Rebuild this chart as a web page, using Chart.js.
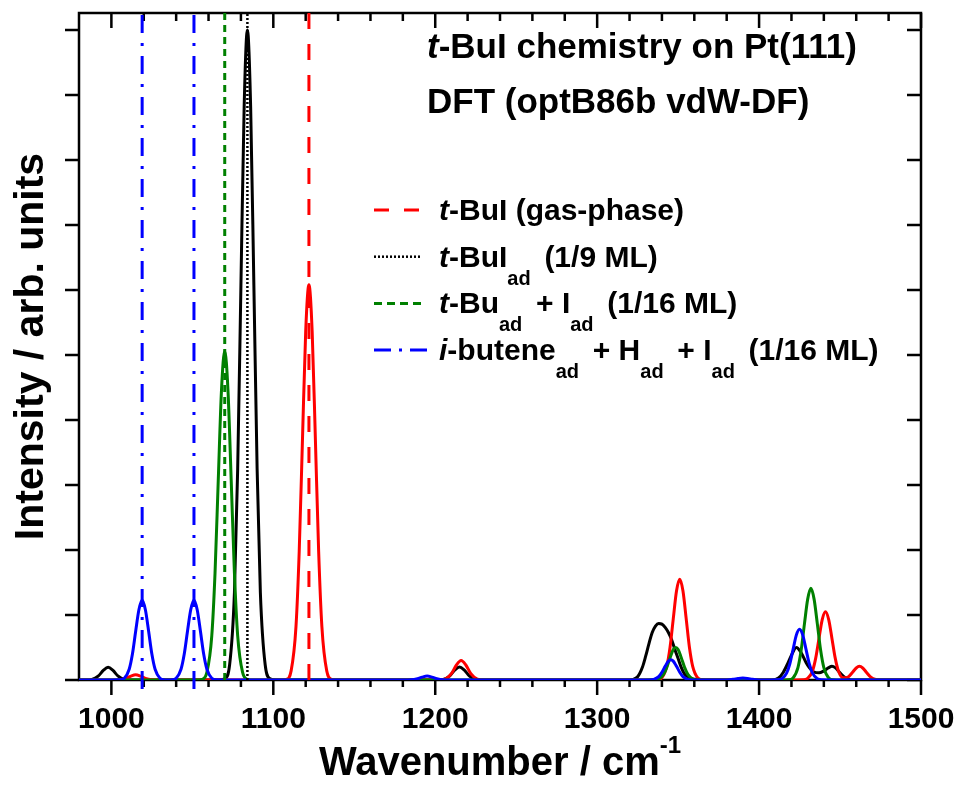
<!DOCTYPE html>
<html>
<head>
<meta charset="utf-8">
<title>t-BuI chemistry on Pt(111)</title>
<script src="https://cdn.jsdelivr.net/npm/chart.js@4.4.1/dist/chart.umd.min.js"></script>
<style>
  html, body { margin: 0; padding: 0; background: #fff; }
  canvas { display: block; }
</style>
</head>
<body>
<canvas id="spectrum" width="960" height="787" style="width:960px;height:787px"></canvas>
<script>
// axis ranges and ticks
const xMin = 980, xMax = 1500;
const yMin = 0, yMax = 1.026;
const xLabelValues = [1000, 1100, 1200, 1300, 1400, 1500];
const xTickValues = [1000, 1020, 1040, 1060, 1080, 1100, 1120, 1140, 1160, 1180, 1200, 1220, 1240, 1260, 1280, 1300,
  1320, 1340, 1360, 1380, 1400, 1420, 1440, 1460, 1480, 1500];
const yTickValues = [0, 0.1, 0.2, 0.3, 0.4, 0.5, 0.6, 0.7, 0.8, 0.9, 1.0];

// t-BuI (gas-phase)
const gasWn = [980, 1001, 1005, 1009, 1012, 1015, 1018, 1021, 1025, 1029,
  1104, 1108, 1111, 1114, 1116, 1118, 1120, 1122, 1124, 1126, 1128, 1130, 1133, 1136, 1140,
  1202, 1206, 1210, 1213, 1216, 1219, 1222, 1226, 1230,
  1333, 1337, 1340, 1343, 1345, 1347, 1349, 1351, 1353, 1355, 1357, 1359, 1362, 1365, 1369,
  1423, 1427, 1430, 1433, 1435, 1437, 1439, 1441, 1443, 1445, 1447, 1449, 1452, 1455, 1458, 1460, 1462, 1464, 1466, 1469, 1472, 1476, 1500];
const gasInt = [0, 0, 0.0004, 0.0026, 0.006, 0.008, 0.006, 0.0026, 0.0004, 0,
  0, 0.001, 0.014, 0.082, 0.198, 0.369, 0.536, 0.608, 0.536, 0.369, 0.198, 0.082, 0.014, 0.001, 0,
  0, 0.0013, 0.0098, 0.0227, 0.03, 0.0227, 0.0098, 0.0013, 0,
  0, 0.0003, 0.0036, 0.021, 0.05, 0.094, 0.137, 0.155, 0.137, 0.094, 0.05, 0.021, 0.0036, 0.0003, 0,
  0, 0.0002, 0.0024, 0.014, 0.034, 0.064, 0.093, 0.105, 0.093, 0.064, 0.034, 0.014, 0.0033, 0.0047, 0.0127, 0.0185, 0.021, 0.0185, 0.0127, 0.0045, 0.0009, 0, 0];
const gasSticks = [1122];

// t-BuI ad (1/9 ML)
const adsWn = [980, 984, 988, 992, 995, 998, 1001, 1004, 1008, 1012,
  1066, 1070, 1073, 1076, 1078, 1080, 1082, 1084, 1086, 1088, 1090, 1092, 1095, 1098, 1102,
  1201, 1205, 1209, 1212, 1215, 1218, 1221, 1225, 1229,
  1318, 1322, 1325, 1328, 1330, 1332, 1334, 1336, 1338, 1340, 1342, 1344, 1346, 1348, 1350, 1352, 1354, 1357, 1361, 1366,
  1408, 1412, 1415, 1418, 1420, 1423, 1426, 1429, 1431, 1434, 1437, 1440, 1443, 1445, 1447, 1450, 1453, 1457, 1500];
const adsInt = [0, 0, 0.0009, 0.0063, 0.0147, 0.0195, 0.0147, 0.0063, 0.0009, 0,
  0, 0.002, 0.023, 0.135, 0.325, 0.607, 0.882, 1.0, 0.882, 0.607, 0.325, 0.135, 0.023, 0.002, 0,
  0, 0.0009, 0.0065, 0.0151, 0.02, 0.0151, 0.0065, 0.0009, 0,
  0, 0.001, 0.005, 0.02, 0.037, 0.056, 0.073, 0.083, 0.087, 0.086, 0.081, 0.073, 0.062, 0.047, 0.033, 0.019, 0.009, 0.003, 0.001, 0,
  0, 0.003, 0.012, 0.027, 0.038, 0.05, 0.042, 0.027, 0.019, 0.012, 0.011, 0.014, 0.019, 0.021, 0.019, 0.011, 0.004, 0, 0];
const adsSticks = [1084];

// t-Bu ad + I ad (1/16 ML)
const tbuWn = [980,
  1052, 1056, 1059, 1062, 1064, 1066, 1068, 1070, 1072, 1074, 1076, 1078, 1081, 1084, 1088,
  1330, 1335, 1338, 1341, 1343, 1345, 1347, 1348.5, 1350, 1352, 1354, 1356, 1359, 1362, 1367,
  1414, 1418, 1421, 1424, 1426, 1428, 1430, 1432, 1434, 1436, 1438, 1440, 1443, 1446, 1450, 1500];
const tbuInt = [0,
  0, 0.001, 0.012, 0.068, 0.164, 0.307, 0.446, 0.506, 0.446, 0.307, 0.164, 0.068, 0.012, 0.001, 0,
  0, 0.0002, 0.0016, 0.0086, 0.0194, 0.034, 0.047, 0.05, 0.047, 0.034, 0.0194, 0.0086, 0.0016, 0.0002, 0,
  0, 0.0003, 0.0032, 0.019, 0.046, 0.086, 0.124, 0.141, 0.124, 0.086, 0.046, 0.019, 0.0032, 0.0003, 0, 0];
const tbuSticks = [1070];

// i-butene ad + H ad + I ad (1/16 ML)
const buteneWn = [980, 1001,
  1005, 1008, 1011, 1013, 1015, 1017, 1019, 1021, 1023, 1025, 1027, 1030, 1033, 1035,
  1037, 1040, 1043, 1045, 1047, 1049, 1051, 1053, 1055, 1057, 1059, 1062, 1065, 1069,
  1181, 1185, 1189, 1192, 1195, 1198, 1201, 1205, 1209,
  1327, 1332, 1335, 1338, 1340, 1342, 1344, 1345.5, 1347, 1349, 1351, 1353, 1356, 1359, 1364,
  1376, 1380, 1384, 1387, 1390, 1393, 1396, 1400, 1404,
  1407, 1411, 1414, 1417, 1419, 1421, 1423, 1425, 1427, 1429, 1431, 1433, 1436, 1439, 1443, 1500];
const buteneInt = [0, 0,
  0.0002, 0.0028, 0.0166, 0.04, 0.075, 0.108, 0.123, 0.108, 0.075, 0.04, 0.0166, 0.0028, 0.0002, 0,
  0.0002, 0.0028, 0.0166, 0.04, 0.075, 0.108, 0.123, 0.108, 0.075, 0.04, 0.0166, 0.0028, 0.0002, 0,
  0, 0.0003, 0.002, 0.0045, 0.006, 0.0045, 0.002, 0.0003, 0,
  0, 0.0001, 0.001, 0.0053, 0.012, 0.021, 0.029, 0.031, 0.029, 0.021, 0.012, 0.0053, 0.001, 0.0001, 0,
  0, 0.0001, 0.001, 0.0023, 0.003, 0.0023, 0.001, 0.0001, 0,
  0, 0.0002, 0.0018, 0.0105, 0.025, 0.047, 0.069, 0.078, 0.069, 0.047, 0.025, 0.0105, 0.0018, 0.0002, 0, 0];
const buteneSticks = [1019, 1051];

const FONT = '"Liberation Sans", Arial, Helvetica, sans-serif';

// series styles, legend order
const series = [
  { wn: gasWn, val: gasInt, sticks: gasSticks, color: '#ff0000', dash: [16, 15], legendDash: [15, 15], stickWidth: 3, stickBottom: 0, order: 3,
    label: [['t', 'i'], ['-BuI (gas-phase)', 'n']] },
  { wn: adsWn, val: adsInt, sticks: adsSticks, color: '#000000', dash: [2, 2], legendDash: [2, 2], stickWidth: 2.5, stickBottom: 0, order: 4,
    label: [['t', 'i'], ['-BuI', 'n'], ['ad', 's'], [' (1/9 ML)', 'n']] },
  { wn: tbuWn, val: tbuInt, sticks: tbuSticks, color: '#008000', dash: [7, 5], legendDash: [8, 5], stickWidth: 3, stickBottom: 0, order: 2,
    label: [['t', 'i'], ['-Bu', 'n'], ['ad', 's'], [' + I', 'n'], ['ad', 's'], [' (1/16 ML)', 'n']] },
  { wn: buteneWn, val: buteneInt, sticks: buteneSticks, color: '#0000ff', dash: [18, 10, 3, 10], legendDash: [17, 8, 3, 8], stickWidth: 3, stickBottom: -0.014, order: 1,
    label: [['i', 'i'], ['-butene', 'n'], ['ad', 's'], [' + H', 'n'], ['ad', 's'], [' + I', 'n'], ['ad', 's'], [' (1/16 ML)', 'n']] },
];

const datasets = [];
series.forEach((s) => {
  datasets.push({
    data: s.wn.map((x, i) => ({ x: x, y: s.val[i] })),
    borderColor: s.color,
    borderWidth: 3,
    pointRadius: 0,
    fill: false,
    cubicInterpolationMode: 'monotone',
    order: s.order,
  });
  s.sticks.forEach((w) => {
    datasets.push({
      data: [{ x: w, y: s.stickBottom }, { x: w, y: yMax }],
      borderColor: s.color,
      borderWidth: s.stickWidth,
      borderDash: s.dash,
      borderCapStyle: 'butt',
      pointRadius: 0,
      fill: false,
      clip: false,
      order: 0,
    });
  });
});

// rich text pieces: 'n' normal, 'i' italic, 's' subscript, 'p' superscript
function pieceFont(kind, size) {
  let fs = size, style = 'bold';
  if (kind === 'i') style = 'italic bold';
  if (kind === 's') fs = Math.round(size * 0.66);
  if (kind === 'p') fs = Math.round(size * 0.6);
  return style + ' ' + fs + 'px ' + FONT;
}

function drawRich(ctx, parts, x, y, size) {
  parts.forEach(([txt, kind]) => {
    let dy = 0;
    if (kind === 's') dy = size * 0.6;
    if (kind === 'p') dy = -size * 0.55;
    ctx.font = pieceFont(kind, size);
    ctx.fillText(txt, x, y + dy);
    x += ctx.measureText(txt).width + (kind === 's' ? size * 0.18 : 0);
  });
  return x;
}

function richWidth(ctx, parts, size) {
  let w = 0;
  parts.forEach(([txt, kind]) => {
    ctx.font = pieceFont(kind, size);
    w += ctx.measureText(txt).width + (kind === 's' ? size * 0.18 : 0);
  });
  return w;
}

// box frame with mirrored ticks, drawn under the curves
const framePlugin = {
  id: 'frame',
  beforeDatasetsDraw(chart) {
    const { ctx, chartArea: a, scales: { x, y } } = chart;
    ctx.save();
    ctx.strokeStyle = '#000';
    ctx.lineWidth = 2.5;
    ctx.beginPath();
    xTickValues.forEach((v) => {
      const px = x.getPixelForValue(v);
      const major = xLabelValues.includes(v);
      ctx.moveTo(px, a.bottom);
      ctx.lineTo(px, a.bottom + (major ? 15 : 7));
      ctx.moveTo(px, a.top);
      ctx.lineTo(px, a.top + (major ? 15 : 8));
    });
    yTickValues.forEach((v) => {
      const py = y.getPixelForValue(v);
      ctx.moveTo(a.left - 14, py);
      ctx.lineTo(a.left, py);
      ctx.moveTo(a.right, py);
      ctx.lineTo(a.right - 14, py);
    });
    ctx.stroke();
    ctx.strokeRect(a.left, a.top, a.right - a.left, a.bottom - a.top);
    ctx.restore();
  },
};

// titles, legend and axis titles
const textPlugin = {
  id: 'texts',
  afterDraw(chart) {
    const { ctx, chartArea: a } = chart;
    ctx.save();
    ctx.fillStyle = '#000';
    ctx.textBaseline = 'alphabetic';
    ctx.textAlign = 'left';

    drawRich(ctx, [['t', 'i'], ['-BuI chemistry on Pt(111)', 'n']], 427, 58, 35);
    drawRich(ctx, [['DFT (optB86b vdW-DF)', 'n']], 427, 113, 35);

    series.forEach((s, i) => {
      const base = 220 + i * 46.7;
      const ly = base - 10;
      ctx.save();
      ctx.strokeStyle = s.color;
      ctx.lineWidth = s.stickWidth;
      ctx.setLineDash(s.legendDash);
      ctx.beginPath();
      ctx.moveTo(374, ly);
      ctx.lineTo(i === 3 ? 427 : 422, ly);
      ctx.stroke();
      ctx.restore();
      drawRich(ctx, s.label, 439, base, 30);
    });

    // y title
    ctx.save();
    ctx.translate(43, (a.top + a.bottom) / 2);
    ctx.rotate(-Math.PI / 2);
    ctx.textAlign = 'center';
    ctx.font = 'bold 41px ' + FONT;
    ctx.fillText('Intensity / arb. units', 0, 0);
    ctx.restore();

    // x title
    const xt = [['Wavenumber / cm', 'n'], ['-1', 'p']];
    const w = richWidth(ctx, xt, 40);
    drawRich(ctx, xt, (a.left + a.right) / 2 - w / 2, 775, 40);
    ctx.restore();
  },
};

const chart = new Chart(document.getElementById('spectrum').getContext('2d'), {
  type: 'line',
  data: { datasets: datasets },
  options: {
    responsive: false,
    animation: false,
    events: [],
    layout: { padding: { left: 0, right: 39, top: 13, bottom: 0 } },
    scales: {
      x: {
        type: 'linear',
        min: xMin,
        max: xMax,
        afterBuildTicks: (scale) => { scale.ticks = xLabelValues.map((v) => ({ value: v })); },
        afterFit: (scale) => {
          scale.height = 107;
          scale.paddingLeft = 0;
          scale.paddingRight = 0;
        },
        grid: { display: false, drawTicks: false },
        border: { display: false },
        ticks: {
          color: '#000',
          padding: 22,
          maxRotation: 0,
          autoSkip: false,
          callback: (v) => String(v),
          font: { family: FONT, size: 30, weight: 'bold' },
        },
      },
      y: {
        type: 'linear',
        min: yMin,
        max: yMax,
        afterFit: (scale) => { scale.width = 79; },
        grid: { display: false, drawTicks: false },
        border: { display: false },
        ticks: { display: false },
      },
    },
    plugins: {
      legend: { display: false },
      tooltip: { enabled: false },
    },
  },
  plugins: [framePlugin, textPlugin],
});
</script>
</body>
</html>
